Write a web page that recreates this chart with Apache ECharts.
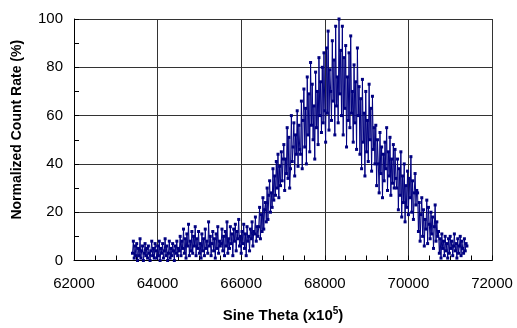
<!DOCTYPE html>
<html><head><meta charset="utf-8">
<script src="https://cdn.jsdelivr.net/npm/echarts@6/dist/echarts.min.js"></script>
<style>html,body{margin:0;padding:0;background:#fff}#c{width:517px;height:328px}</style>
</head><body><div id="c"></div>
<script>
// x positions: start and step; y values
const xStart = 63400;
const xStep = 20;
const intensity = [
  3,8,1,6,2,7,0,5,2,9,1,4,6,0,3,7,2,5,1,6,3,0,4,8,2,5,1,7,
  4,1,6,2,8,0,5,3,7,1,4,9,2,6,0,3,8,1,5,2,7,4,0,6,3,8,2,5,
  4,10,2,8,5,13,3,9,1,11,6,15,2,8,4,12,3,10,6,14,2,9,5,12,3,
  7,1,11,4,9,2,13,5,8,3,16,6,10,2,7,12,4,9,1,11,5,14,3,8,6,
  7,13,4,10,2,12,6,16,3,9,5,14,7,11,2,13,8,15,4,12,9,17,6,
  10,3,12,7,15,5,11,2,14,8,10,4,13,9,16,6,12,11,18,8,14,10,
  14,22,9,19,12,26,13,21,24,16,30,17,27,33,20,28,22,38,25,35,27,41,30,44,26,39,31,45,33,42,
  48,29,42,36,55,34,51,30,38,60,41,47,57,35,52,44,62,39,56,46,
  44,66,38,58,71,47,63,40,76,52,69,45,82,56,73,50,64,42,78,55,70,48,84,60,74,53,80,57,86,62,
  49,88,61,95,54,79,70,58,91,66,83,52,97,64,76,57,100,69,87,60,
  97,52,84,63,89,47,76,58,86,55,93,61,70,49,81,57,74,46,88,60,
  72,44,67,38,75,49,61,35,70,45,58,41,73,50,63,37,68,46,55,40,
  56,31,50,40,28,53,36,47,26,44,33,49,38,55,29,45,35,51,27,42,32,48,30,46,34,
  30,42,21,38,27,45,18,35,24,40,16,31,22,37,19,34,26,43,20,33,17,28,36,23,29,
  28,12,24,8,19,26,10,21,6,17,13,25,7,22,15,9,20,11,18,5,14,23,8,16,10,
  12,3,9,1,11,5,8,2,10,4,7,1,9,3,10,5,8,2,6,11,4,7,1,9,3,6,10,2,8,5,3,9,4,7,6
];
const xTicks = [62000, 64000, 66000, 68000, 70000, 72000];
const yTicks = [0, 20, 40, 60, 80, 100];
const xTitle = 'Sine Theta (x10';
const xTitleSup = '5';
const yTitle = 'Normalized Count Rate (%)';

const points = intensity.map((v, i) => [xStart + i * xStep, v]);

const chart = echarts.init(document.getElementById('c'), null, {renderer: 'canvas'});
const font = 'Arial, "Liberation Sans", sans-serif';
chart.setOption({
  animation: false,
  backgroundColor: '#fff',
  grid: {left: 74, right: 25, top: 19, bottom: 63, containLabel: false},
  xAxis: {
    type: 'value', min: xTicks[0], max: xTicks[xTicks.length - 1], interval: 2000,
    axisLine: {show: true, lineStyle: {color: '#000', width: 1}},
    axisTick: {show: true, inside: true, length: 5, lineStyle: {color: '#000'}},
    minorTick: {show: true, splitNumber: 4, length: 5, lineStyle: {color: '#000'}},
    splitLine: {show: true, lineStyle: {color: '#333', width: 1}},
    axisLabel: {color: '#000', fontSize: 15, fontFamily: font, margin: 16, formatter: v => String(v)},
    name: '{a|' + xTitle + '}{s|' + xTitleSup + '}{a|)}',
    nameLocation: 'middle', nameGap: 46,
    nameTextStyle: {
      rich: {
        a: {fontSize: 15, fontWeight: 'bold', fontFamily: font, color: '#000'},
        s: {fontSize: 10, fontWeight: 'bold', fontFamily: font, color: '#000', verticalAlign: 'top', padding: [0, 0, 8, 0]}
      }
    }
  },
  yAxis: {
    type: 'value', min: yTicks[0], max: yTicks[yTicks.length - 1], interval: 20,
    axisLine: {show: true, lineStyle: {color: '#000', width: 1}},
    axisTick: {show: true, inside: true, length: 5, lineStyle: {color: '#000'}},
    minorTick: {show: true, splitNumber: 2, length: 5, lineStyle: {color: '#000'}},
    splitLine: {show: true, lineStyle: {color: '#333', width: 1}},
    axisLabel: {color: '#000', fontSize: 15, fontFamily: font, margin: 11},
    name: yTitle, nameLocation: 'middle', nameGap: 50,
    nameTextStyle: {fontSize: 14, fontWeight: 'bold', fontFamily: font, color: '#000', padding: [0, 0, 0, 20]}
  },
  series: [{
    type: 'line', data: points,
    lineStyle: {color: '#000080', width: 1},
    itemStyle: {color: '#000080'},
    symbol: 'rect', symbolSize: 3, showSymbol: true, showAllSymbol: true
  }]
});
</script></body></html>
